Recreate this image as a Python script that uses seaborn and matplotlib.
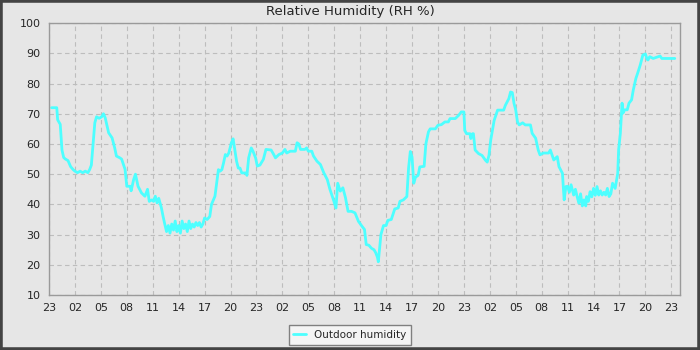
import matplotlib
matplotlib.use("Agg")
import matplotlib.pyplot as plt
from matplotlib.patches import Rectangle
from matplotlib.ticker import MultipleLocator
import pandas as pd
import seaborn as sns

# hours since 23:00 on the first day
hours = [
    0.3, 0.9, 1.0, 1.3, 1.5, 1.7, 1.9, 2.2, 2.5, 2.8, 3.0, 3.3, 3.6, 3.9, 4.2, 4.5, 4.7, 4.9,
    5.1, 5.3, 5.5, 5.8, 6.1, 6.3, 6.5, 6.9, 7.3, 7.6, 7.8, 8.2, 8.4, 8.8, 9.0, 9.4, 9.5, 9.8,
    10.0, 10.3, 10.7, 11.1, 11.4, 11.6, 11.9, 12.1, 12.3, 12.5, 12.7, 12.9, 13.0, 13.2, 13.4,
    13.6, 13.8, 14.0, 14.2, 14.4, 14.6, 14.8, 15.0, 15.2, 15.4, 15.6, 15.8, 16.0, 16.2, 16.4,
    16.6, 16.8, 17.0, 17.2, 17.4, 17.6, 17.8, 18.0, 18.3, 18.6, 18.8, 19.2, 19.4, 19.6, 19.8,
    20.0, 20.2, 20.4, 20.6, 20.8, 21.1, 21.3, 21.5, 21.7, 21.9, 22.1, 22.3, 22.8, 22.9, 23.1,
    23.4, 23.6, 23.9, 24.1, 24.4, 24.8, 25.1, 25.7, 26.0, 26.2, 26.6, 27.0, 27.3, 27.5, 27.9,
    28.5, 28.7, 28.9, 29.1, 29.6, 29.8, 30.0, 30.4, 30.6, 31.0, 31.4, 31.8, 32.2, 32.5, 32.9,
    33.2, 33.4, 33.7, 34.0, 34.3, 34.6, 35.0, 35.4, 35.8, 36.2, 36.5, 36.7, 37.0, 37.3, 37.6,
    37.8, 38.0, 38.1, 38.2, 38.4, 38.7, 39.0, 39.2, 39.6, 40.0, 40.4, 40.6, 41.0, 41.4, 41.6,
    41.8, 42.0, 42.2, 42.4, 42.7, 42.9, 43.4, 43.6, 43.9, 44.1, 44.7, 45.0, 45.4, 45.8, 46.2,
    46.4, 47.0, 47.4, 47.7, 48.0, 48.1, 48.3, 48.7, 48.8, 49.0, 49.1, 49.3, 49.7, 50.1, 50.5,
    50.7, 50.9, 51.1, 51.3, 51.5, 51.7, 51.9, 52.6, 52.8, 53.0, 53.2, 53.4, 53.6, 53.8, 54.0,
    54.2, 54.4, 54.8, 55.1, 55.7, 55.9, 56.3, 56.6, 56.8, 57.2, 57.8, 58.0, 58.4, 58.8, 59.0,
    59.4, 59.6, 59.8, 60.0, 60.2, 60.4, 60.7, 60.9, 61.1, 61.3, 61.5, 61.7, 61.9, 62.1, 62.2,
    62.4, 62.6, 62.8, 63.0, 63.2, 63.4, 63.6, 63.8, 64.0, 64.2, 64.4, 64.6, 64.8, 65.0, 65.2,
    65.5, 65.8, 65.9, 66.1, 66.3, 66.4, 66.6, 66.9, 67.1, 67.4, 67.6, 67.9, 68.1, 68.4, 68.7,
    69.0, 69.2, 69.3, 69.5, 69.9, 70.3, 70.7, 70.9, 72.4,
]
rh = [
    72, 72, 68, 66.5, 58, 55.5, 55, 54.5, 52.5, 51.5, 51, 50.5, 51, 50.5, 51, 50.5, 51.5, 53,
    60, 67, 69, 68.5, 69, 70, 68.7, 63.7, 62, 58.7, 56, 55.4, 55, 51.6, 46, 46, 44.5, 48.3,
    50, 46, 43.8, 42.7, 45, 41, 41.5, 41, 42.7, 40.5, 42, 40, 38.9, 36, 33.4,
    31, 33, 30.5, 33.5, 31.5, 34.5, 31, 33, 30.5, 34.5, 32, 33.5, 31, 34.5, 32,
    33.5, 32.5, 34, 33, 34, 32.5, 33.5, 35.5, 35, 36, 40, 42.7, 47, 51.5, 51,
    51.5, 53.8, 56.5, 56, 57, 60.4, 61.7, 58, 54.3, 52, 52, 50.4, 50.4, 49.6, 55.4,
    58.7, 57.6, 55.4, 52.7, 53, 54.9, 58.2, 58, 56.5, 55.4, 56.5, 57, 58.2, 57, 57.6,
    57.6, 60.4, 60, 58.2, 58.2, 58.7, 57.6, 57.6, 56, 54.3, 53.2, 50.4, 48.2, 45, 41.6,
    38.8, 47, 44.4, 45.5, 42.2, 37.7, 37.7, 37.2, 34.4, 32.8, 31.7, 26.7, 26.5, 25.5, 25,
    24, 22.5, 21, 24, 30, 33, 33, 34.7, 35, 38.5, 38.8, 41, 41.5, 42.6, 52,
    57.5, 55.7, 47, 49, 49.6, 52.4, 52.6, 60, 64, 65, 65, 66.2, 66.4, 67.3, 67.3,
    68.4, 68.4, 69.5, 70.6, 70.6, 64.5, 63.4, 63.4, 61.8, 63.4, 63.4, 58, 56.8, 56.2, 54.6,
    54, 56.2, 61.2, 64.5, 67.8, 69.5, 71.2, 71.2, 72.8, 73.9, 75, 77.2, 77, 73.4, 71.2,
    67.3, 66.3, 67, 66.3, 66.3, 63.5, 61.9, 58, 56.4, 57, 57, 58, 54.7, 55.8, 52.5,
    50.3, 41.5, 45.9, 46, 44, 46.5, 43.1, 45, 42.6, 40.4, 43.5, 39.5, 41.5, 39.5, 42.6,
    41, 44.2, 42.5, 45.3, 43, 45.9, 43.1, 44.5, 43.1, 44, 43.1, 45.3, 42.6, 43.5, 47,
    45.3, 50.3, 58, 63.5, 73.5, 70.2, 71.3, 71.3, 73.5, 74.6, 77.9, 81.7, 83.4, 86.1, 89.4,
    89.8, 88, 87.8, 88.9, 88.3, 88.7, 89.1, 88.3, 88.3,
]
tick_hours = list(range(0, 73, 3))
tick_labels = [f"{(23 + h) % 24:02d}" for h in tick_hours]

BG = "#e6e6e6"
LINE = "#4dffff"

sns.set_style("white", {"axes.facecolor": BG, "figure.facecolor": BG})
plt.rcParams["font.family"] = ["DejaVu Sans"]

df = pd.DataFrame({"hour": hours, "rh": rh})

fig = plt.figure(figsize=(7, 3.5), dpi=100)
ax = fig.add_axes([0.07, 0.157, 0.9014, 0.777])
sns.lineplot(data=df, x="hour", y="rh", color=LINE, lw=2.0, estimator=None,
             label="Outdoor humidity", legend=False, ax=ax)

ax.set_xlim(0, 73)
ax.set_ylim(10, 100)
ax.set_xticks(tick_hours)
ax.set_xticklabels(tick_labels)
ax.xaxis.set_minor_locator(MultipleLocator(1))
ax.yaxis.set_major_locator(MultipleLocator(10))
ax.tick_params(axis="both", which="major", direction="out", length=4, width=0.8,
               color="black", labelsize=8, pad=2)
ax.tick_params(axis="x", which="minor", direction="out", length=2.5, width=0.8, color="black")
ax.grid(True, which="major", color="#bdbdbd", ls=(0, (4, 3)), lw=0.8)
for s in ax.spines.values():
    s.set_visible(True)
    s.set_color("#9a9a9a")
    s.set_linewidth(1.0)
ax.set_xlabel("")
ax.set_ylabel("")

fig.suptitle("Relative Humidity (RH %)", y=0.985, fontsize=9.5)
fig.legend(loc="lower center", bbox_to_anchor=(0.5, 0.0), ncol=1, fontsize=7.5,
           frameon=True, fancybox=False, facecolor="#f4f4f4", edgecolor="#808080",
           framealpha=1, handlelength=1.2, borderpad=0.45)

fig.patches.append(Rectangle((0, 0), 1, 1, transform=fig.transFigure, fill=False,
                             edgecolor="#444444", lw=4, zorder=10))
fig.savefig("out.png", dpi=100, facecolor=BG)
